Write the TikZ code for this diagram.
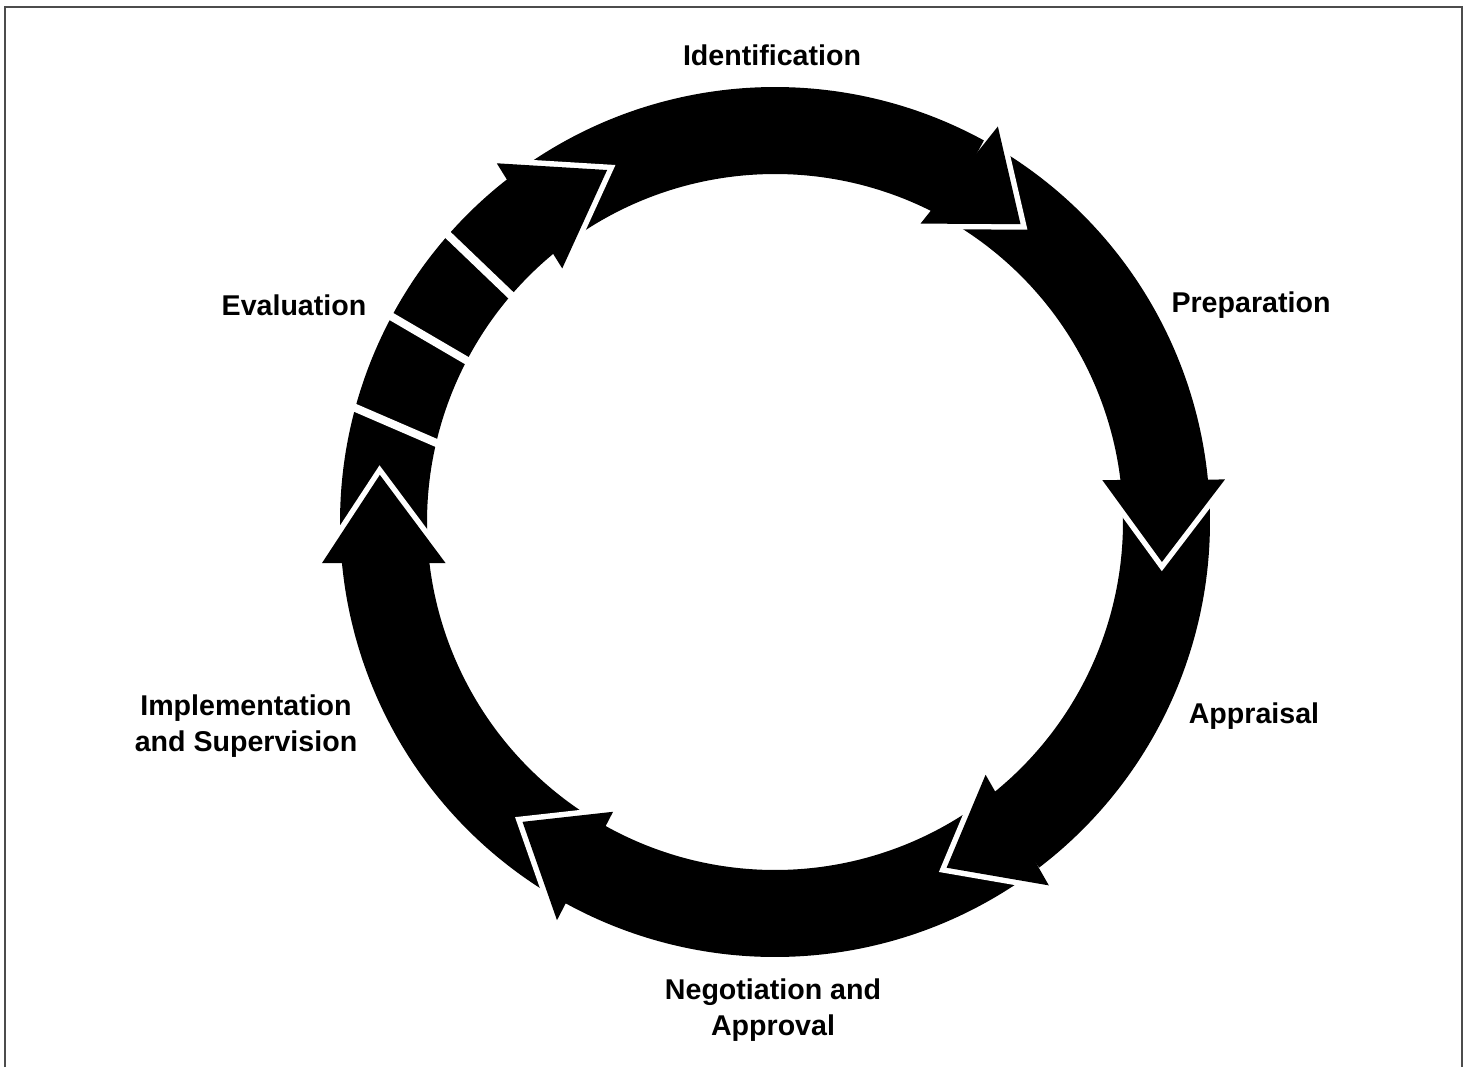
\documentclass[tikz,border=0pt]{standalone}
\usepackage{fontspec}
\setmainfont{Liberation Sans}
\begin{document}
\begin{tikzpicture}[x=0.5pt,y=0.5pt,line join=miter,
	band/.style={fill=black},
	head/.style={fill=black,preaction={draw=white,line width=5.5pt}},
	gap/.style={draw=white,line width=4pt},
	frame/.style={draw=black!70,line width=1pt},
	lbl/.style={font=\fontsize{14.3}{18}\selectfont\bfseries,align=center,inner sep=0pt}]
		\useasboundingbox (0,0) rectangle (1468,1067);
		\draw[frame] (5,0)--(5,1060)--(1462,1060)--(1462,0);
		\begin{scope}[shift={(775,545)}]
		% bodies of the six arrows
		\fill[band] (126.4:435) arc[start angle=126.4,end angle=61.3,radius=435]--(61.3:348) arc[start angle=61.3,end angle=126.4,radius=348]--cycle;
		\fill[band] (59.8:435) arc[start angle=59.8,end angle=5.3,radius=435]--(5.3:348) arc[start angle=5.3,end angle=59.8,radius=348]--cycle;
		\fill[band] (3.8:435) arc[start angle=3.8,end angle=-52.6,radius=435]--(-52.6:348) arc[start angle=-52.6,end angle=3.8,radius=348]--cycle;
		\fill[band] (-54.1:435) arc[start angle=-54.1,end angle=-120,radius=435]--(-120:348) arc[start angle=-120,end angle=-54.1,radius=348]--cycle;
		\fill[band] (-121.5:435) arc[start angle=-121.5,end angle=-174.9,radius=435]--(-174.9:348) arc[start angle=-174.9,end angle=-121.5,radius=348]--cycle;
		\fill[band] (-176.4:435) arc[start angle=-176.4,end angle=-232.1,radius=435]--(-232.1:348) arc[start angle=-232.1,end angle=-176.4,radius=348]--cycle;
		% blocks of the evaluation arrow
		\draw[gap] (138.7:440)--(139.4:343);
		\draw[gap] (151.8:440)--(152.4:343);
		\draw[gap] (164.7:440)--(167:343);
		% heads
		\path[head] (60.6:454)--(50.5:386)--(64:332);
		\path[head] (5.4:452)--(-5.9:389)--(7.3:330);
		\path[head] (-53:455)--(-63.6:386)--(-50.2:329);
		\path[head] (-118.7:454)--(-130.1:392)--(-119.2:332);
		\path[head] (-174.8:455)--(173.2:398)--(-172.9:332);
		\path[head] (127.8:454)--(115.5:390)--(130:331);
		\end{scope}
		\node[lbl] (ident) at (772,1012) {Identification};
		\node[lbl] (prep) at (1251,762) {Preparation};
		\node[lbl] (apprais) at (1254,351) {Appraisal};
		\node[lbl] (negot) at (773,57) {Negotiation and\\Approval};
		\node[lbl] (implem) at (246,341) {Implementation\\and Supervision};
		\node[lbl] (evalu) at (294,762) {Evaluation};
\end{tikzpicture}
\end{document}
